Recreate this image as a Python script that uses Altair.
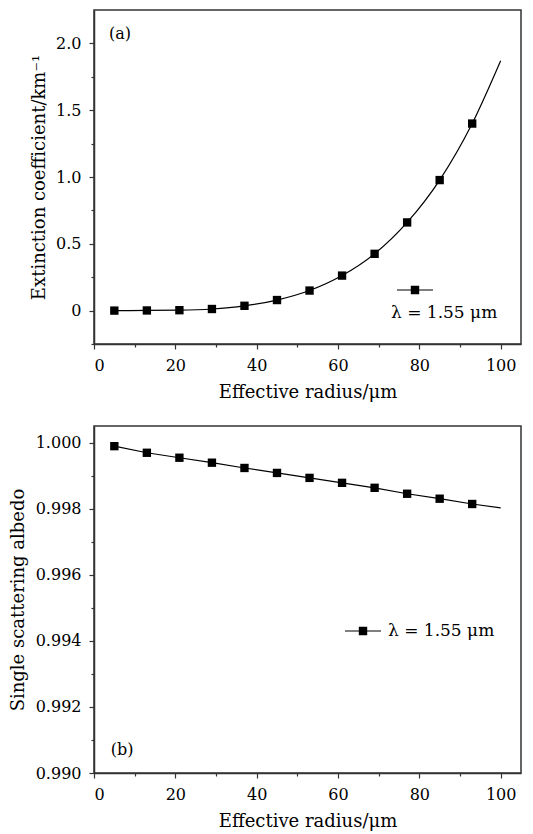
import altair as alt
import pandas as pd

# ---- data ----
radius = [5, 13, 21, 29, 37, 45, 53, 61, 69, 77, 85, 93]
extinction = [0.000, 0.001, 0.003, 0.012, 0.036, 0.079, 0.150, 0.262, 0.425, 0.660, 0.977, 1.400]
albedo = [0.99989, 0.99969, 0.99954, 0.99939, 0.99923, 0.99908,
          0.99893, 0.99878, 0.99863, 0.99845, 0.99830, 0.99814]
curve_radius = [5, 13, 21, 29, 37, 45, 53, 61, 69, 77, 85, 93, 100]
curve_extinction = [0.000, 0.001, 0.003, 0.012, 0.036, 0.079, 0.150, 0.262, 0.425, 0.660, 0.977, 1.400, 1.87]
curve_albedo = [0.99989, 0.99969, 0.99954, 0.99939, 0.99923, 0.99908,
                0.99893, 0.99878, 0.99863, 0.99845, 0.99830, 0.99814, 0.99802]
series_label = "λ = 1.55 μm"
x_ticks = [0, 10, 20, 30, 40, 50, 60, 70, 80, 90, 100]
ext_ticks = [-0.25, 0, 0.25, 0.5, 0.75, 1.0, 1.25, 1.5, 1.75, 2.0]
alb_ticks = [0.990, 0.991, 0.992, 0.993, 0.994, 0.995, 0.996, 0.997, 0.998, 0.999, 1.000]

FONT = "DejaVu Serif"
FS = 16
TFS = 18
LFS = 17
INK = "#333333"
# legend symbol: line segment with a filled square (as filled shapes)
SYMBOL = "M-1.8,-0.06H1.8V0.06H-1.8Z M-0.42,-0.42H0.42V0.42H-0.42Z"

pts_df = pd.DataFrame({"radius": radius, "ext": extinction, "alb": albedo, "series": series_label})
curve_df = pd.DataFrame({"radius": curve_radius, "ext": curve_extinction, "alb": curve_albedo})

W = 427


def x_enc():
    return alt.X(
        "radius:Q",
        scale=alt.Scale(domain=[0, 105], nice=False, zero=False),
        axis=alt.Axis(
            values=x_ticks,
            labelExpr="datum.value % 20 == 0 ? datum.label : ''",
            tickSize={"condition": {"test": "datum.value % 20 == 0", "value": 5}, "value": 3},
            labelPadding=8,
            titlePadding=10,
        ),
        title="Effective radius/μm",
    )


def legend_common(**kw):
    return alt.Legend(
        orient="none",
        padding=0,
        symbolType=SYMBOL,
        symbolSize=400,
        symbolFillColor="black",
        symbolStrokeWidth=0,
        symbolOpacity=1,
        **kw,
    )


# ---- panel (a) ----
y_a = alt.Y(
    "ext:Q",
    scale=alt.Scale(domain=[-0.25, 2.25], nice=False, zero=False),
    axis=alt.Axis(
        values=ext_ticks,
        labelExpr="round(datum.value*4) % 2 == 0 ? (datum.value == 0 ? '0' : format(datum.value, '.1f')) : ''",
        tickSize={"condition": {"test": "round(datum.value*4) % 2 == 0", "value": 5}, "value": 3},
        labelPadding=8,
        titlePadding=7,
    ),
    title="Extinction coefficient/km⁻¹",
)
leg_a = legend_common(
    title=series_label,
    titleOrient="bottom",
    titleAnchor="start",
    titleFont=FONT,
    titleFontSize=LFS,
    titleFontWeight="normal",
    titleColor="black",
    titlePadding=11,
    labelExpr="''",
    labelFontSize=1,
    labelOffset=0,
    symbolOffset=14,
    legendX=297,
    legendY=270,
)
line_a = alt.Chart(curve_df).mark_line(color="black", strokeWidth=1.2, interpolate="monotone").encode(x=x_enc(), y=y_a)
pts_a = alt.Chart(pts_df).mark_square(size=70, opacity=1, filled=True).encode(
    x=x_enc(), y=y_a,
    color=alt.Color("series:N", scale=alt.Scale(range=["black"]), legend=leg_a),
)
txt_a = alt.Chart(pd.DataFrame({"t": ["(a)"]})).mark_text(
    font=FONT, fontSize=FS, align="center", baseline="middle", color="black"
).encode(x=alt.value(26), y=alt.value(24), text="t:N")
panel_a = alt.layer(line_a, pts_a, txt_a).properties(width=W, height=334)

# ---- panel (b) ----
y_b = alt.Y(
    "alb:Q",
    scale=alt.Scale(domain=[0.990, 1.0005], nice=False, zero=False),
    axis=alt.Axis(
        values=alb_ticks,
        labelExpr="round(datum.value*1000) % 2 == 0 ? format(datum.value, '.3f') : ''",
        tickSize={"condition": {"test": "round(datum.value*1000) % 2 == 0", "value": 5}, "value": 3},
        labelPadding=8,
        titlePadding=8,
    ),
    title="Single scattering albedo",
)
leg_b = legend_common(
    title=None,
    labelFont=FONT,
    labelFontSize=LFS,
    labelColor="black",
    labelOffset=15,
    legendX=259,
    legendY=195,
)
line_b = alt.Chart(curve_df).mark_line(color="black", strokeWidth=1.2).encode(x=x_enc(), y=y_b)
pts_b = alt.Chart(pts_df).mark_square(size=70, opacity=1, filled=True).encode(
    x=x_enc(), y=y_b,
    color=alt.Color("series:N", scale=alt.Scale(range=["black"]), legend=leg_b),
)
txt_b = alt.Chart(pd.DataFrame({"t": ["(b)"]})).mark_text(
    font=FONT, fontSize=FS, align="center", baseline="middle", color="black"
).encode(x=alt.value(28), y=alt.value(324), text="t:N")
panel_b = alt.layer(line_b, pts_b, txt_b).properties(width=W, height=347)

chart = (
    alt.vconcat(panel_a.resolve_scale(color="independent"), panel_b.resolve_scale(color="independent"), spacing=23)
    .resolve_scale(color="independent")
    .properties(padding={"left": 0, "top": 1, "right": 0, "bottom": 0})
    .configure(font=FONT)
    .configure_view(stroke=INK, strokeWidth=1.5)
    .configure_axis(
        grid=False,
        labelFont=FONT,
        labelFontSize=FS,
        labelColor="black",
        titleFont=FONT,
        titleFontSize=TFS,
        titleFontWeight="normal",
        titleColor="black",
        domainColor=INK,
        domainWidth=1.5,
        tickColor=INK,
        tickWidth=1.2,
    )
)

chart.save("out.html", embed_options={"renderer": "svg", "actions": False})
